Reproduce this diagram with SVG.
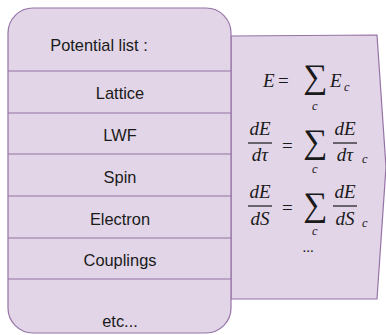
<svg xmlns="http://www.w3.org/2000/svg" width="386" height="335" viewBox="0 0 386 335">
<style>
.shape{fill:#e1d5e7;stroke:#9673a6;stroke-width:1.2}
.div{stroke:#9673a6;stroke-width:1.2}
.lbl{font-family:"Liberation Sans",Arial,sans-serif;font-size:16.4px;fill:#1a1a1a;text-anchor:middle}
.m{font-family:"Liberation Serif","Times New Roman",serif;font-style:italic;font-size:19px;fill:#1a1a1a}
.mr{font-family:"Liberation Serif","Times New Roman",serif;font-size:19px;fill:#1a1a1a}
.sig{font-family:"Liberation Serif","Times New Roman",serif;font-size:34px;fill:#1a1a1a;text-anchor:middle}
.sub{font-family:"Liberation Serif","Times New Roman",serif;font-style:italic;font-size:12.5px;fill:#1a1a1a}
.bar{stroke:#1a1a1a;stroke-width:1.2}
</style>
<g id="formulas-panel">
<polygon class="shape" points="231,36 377,35 386,167 377,299 231,299"/>
<g id="f1">
<text class="m" x="263" y="87">E</text>
<text class="mr" x="278" y="87">=</text>
<text class="sig" x="315" y="88">∑</text>
<text class="sub" x="312" y="110">c</text>
<text class="m" x="330" y="87">E</text>
<text class="sub" x="344" y="91">c</text>
</g>
<g id="f2">
<text class="m" x="260" y="135" text-anchor="middle">dE</text>
<line class="bar" x1="248" y1="143" x2="272" y2="143"/>
<text class="m" x="260" y="161" text-anchor="middle">dτ</text>
<text class="mr" x="282" y="152">=</text>
<text class="sig" x="315" y="153">∑</text>
<text class="sub" x="312" y="173">c</text>
<text class="m" x="345" y="135" text-anchor="middle">dE</text>
<line class="bar" x1="333" y1="143" x2="357" y2="143"/>
<text class="m" x="345" y="161" text-anchor="middle">dτ</text>
<text class="sub" x="362" y="163">c</text>
</g>
<g id="f3">
<text class="m" x="260" y="198" text-anchor="middle">dE</text>
<line class="bar" x1="248" y1="206" x2="272" y2="206"/>
<text class="m" x="260" y="225" text-anchor="middle">dS</text>
<text class="mr" x="282" y="214">=</text>
<text class="sig" x="315" y="216">∑</text>
<text class="sub" x="312" y="235">c</text>
<text class="mr" x="308" y="252" text-anchor="middle" style="font-size:15px">...</text>
<text class="m" x="345" y="198" text-anchor="middle">dE</text>
<line class="bar" x1="333" y1="206" x2="357" y2="206"/>
<text class="m" x="345" y="225" text-anchor="middle">dS</text>
<text class="sub" x="362" y="227">c</text>
</g>
</g>
<g id="potential-list">
<rect class="shape" x="8" y="8" width="223" height="325" rx="25" ry="25"/>
<line class="div" x1="8" y1="71" x2="231" y2="71"/>
<line class="div" x1="8" y1="113" x2="231" y2="113"/>
<line class="div" x1="8" y1="154" x2="231" y2="154"/>
<line class="div" x1="8" y1="196" x2="231" y2="196"/>
<line class="div" x1="8" y1="238" x2="231" y2="238"/>
<line class="div" x1="8" y1="279" x2="231" y2="279"/>
<text class="lbl" x="99" y="51">Potential list :</text>
<text class="lbl" x="120" y="99">Lattice</text>
<text class="lbl" x="120" y="141">LWF</text>
<text class="lbl" x="120" y="183">Spin</text>
<text class="lbl" x="120" y="225">Electron</text>
<text class="lbl" x="120" y="266">Couplings</text>
<text class="lbl" x="120" y="327">etc...</text>
</g>
</svg>
